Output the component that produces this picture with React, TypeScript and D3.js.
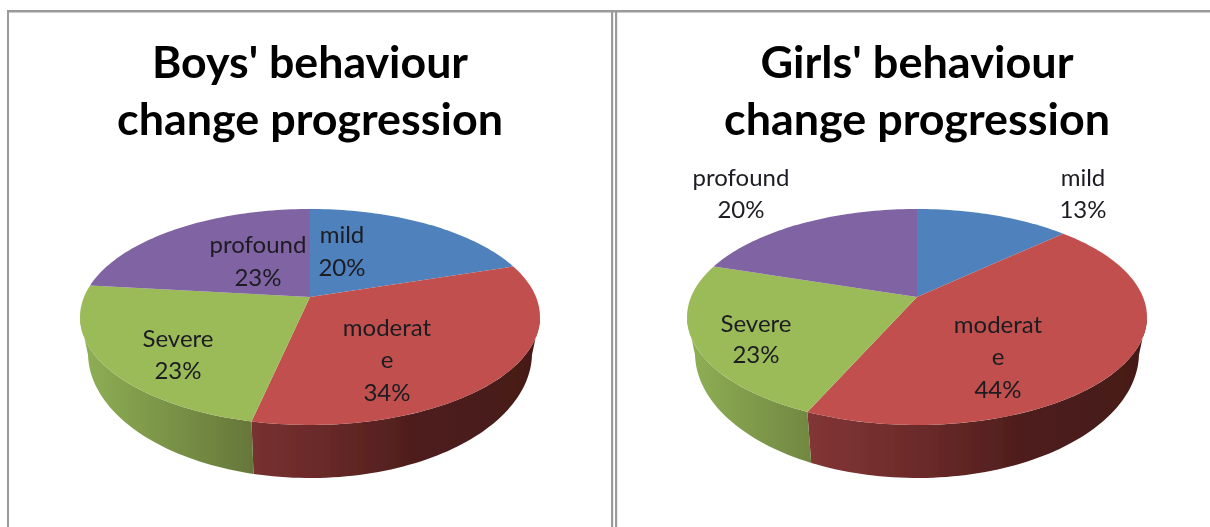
import React from "react";
import * as d3 from "d3";

const categories = ["mild", "moderate", "Severe", "profound"];
const boysValues = [20, 33.4, 23.4, 23.2];
const girlsValues = [13, 43.6, 23.4, 20];
const boysPercents = ["20%", "34%", "23%", "23%"];
const girlsPercents = ["13%", "44%", "23%", "20%"];
const titleLines = ["behaviour", "change progression"];

const topColors = ["#4f81bd", "#c0504d", "#9bbb59", "#8064a2"];

// layout
const K = 0.185, R = 226, S = 104.3, APEX_Y = 297;
const TOP_RX = 230, BOT_RX = 222, BOT_CY = 353, BOT_RY = 125;
const WIDE_A = Math.acos(-K); // angle of the rim's widest point, right side
const FONT = "Lato, Carlito, 'Open Sans', sans-serif";

type Lbl = { x: number; ys: number[]; lines: string[] };

function rim(cx: number, a: number): [number, number] {
  const u = Math.sin(a), v = -Math.cos(a), w = 1 - K * v;
  return [cx + (R * u) / w, APEX_Y + (S * v) / w];
}

function lowerRim(cx: number, a: number): [number, number] {
  const d = Math.min(1, Math.abs(rim(cx, a)[0] - cx) / TOP_RX);
  const sign = Math.sin(a) >= 0 ? 1 : -1;
  return [cx + sign * BOT_RX * d, BOT_CY + BOT_RY * Math.sqrt(1 - d * d)];
}

const line = d3.line();

function sample(a0: number, a1: number) {
  const n = Math.max(2, Math.ceil((a1 - a0) * 40));
  return d3.range(n + 1).map((i) => a0 + ((a1 - a0) * i) / n);
}

function Pie({ id, cx, values, labels }: { id: string; cx: number; values: number[]; labels: Lbl[] }) {
  const arcs = d3.pie<number>().sort(null)(values);
  const sideX = d3.scaleLinear().domain([-230, 230]).range([cx - 230, cx + 230]);
  return (
    <g>
      <defs>
        <linearGradient id={id + "g"} gradientUnits="userSpaceOnUse" x1={sideX(-230)} x2={sideX(-57)} y1="0" y2="0">
          <stop offset="0" stopColor="#8fb055" />
          <stop offset="1" stopColor="#66773a" />
        </linearGradient>
        <linearGradient id={id + "r"} gradientUnits="userSpaceOnUse" x1={sideX(-110)} x2={sideX(230)} y1="0" y2="0">
          <stop offset="0" stopColor="#823535" />
          <stop offset="0.35" stopColor="#6a2a29" />
          <stop offset="0.62" stopColor="#4f1e1d" />
          <stop offset="1" stopColor="#461918" />
        </linearGradient>
      </defs>
      {[1, 2].map((i) => {
        const a0 = Math.max(arcs[i].startAngle, WIDE_A);
        const a1 = Math.min(arcs[i].endAngle, 2 * Math.PI - WIDE_A);
        const as = sample(a0, a1);
        const pts = [...as.map((a) => rim(cx, a)), ...as.slice().reverse().map((a) => lowerRim(cx, a))] as [number, number][];
        return <path key={i} d={line(pts) + "Z"} fill={`url(#${id}${i === 1 ? "r" : "g"})`} />;
      })}
      {arcs.map((a, i) => {
        const pts = [[cx, APEX_Y] as [number, number], ...sample(a.startAngle, a.endAngle).map((t) => rim(cx, t))];
        return <path key={i} d={line(pts) + "Z"} fill={topColors[i]} />;
      })}
      {labels.map((l, i) =>
        l.lines.map((t, j) => (
          <text key={i + "-" + j} x={l.x} y={l.ys[j]} textAnchor="middle" fontFamily={FONT} fontSize={24} fill="#1c1c22">
            {t}
          </text>
        ))
      )}
    </g>
  );
}

function Title({ cx, who }: { cx: number; who: string }) {
  return (
    <g fontFamily={FONT} fontSize={44} fontWeight={700} textAnchor="middle" fill="#000">
      <text x={cx} y={78} textLength={who === "Boys'" ? 316 : 313} lengthAdjust="spacingAndGlyphs">
        {who} {titleLines[0]}
      </text>
      <text x={cx} y={135} textLength={386} lengthAdjust="spacingAndGlyphs">
        {titleLines[1]}
      </text>
    </g>
  );
}

const split = (name: string) => (name === "moderate" ? ["moderat", "e"] : [name]);

export default function App() {
  const bx = [342, 387, 178, 258];
  const bY = [[243, 276], [336, 368, 401], [347, 379], [253, 286]];
  const gx = [1083, 998, 756, 741];
  const gY = [[186, 218], [333, 365, 398], [332, 363], [186, 218]];
  const boysLabels = categories.map((c, i) => ({ x: bx[i], ys: bY[i], lines: [...split(c), boysPercents[i]] }));
  const girlsLabels = categories.map((c, i) => ({ x: gx[i], ys: gY[i], lines: [...split(c), girlsPercents[i]] }));
  return (
    <svg width={1210} height={527} style={{ position: "absolute", left: 0, top: 0, display: "block", background: "#fff" }}>
      <defs>
        <filter id="soft" x="-5%" y="-5%" width="110%" height="110%">
          <feGaussianBlur stdDeviation="0.45" />
        </filter>
      </defs>
      <g filter="url(#soft)">
        <rect x={7} y={10} width={1203} height={2.5} fill="#9a9a9a" />
        <rect x={7} y={10} width={2} height={517} fill="#9a9a9a" />
        <rect x={611} y={10} width={2.2} height={517} fill="#9a9a9a" />
        <rect x={615} y={10} width={2.2} height={517} fill="#9a9a9a" />
        <Title cx={310} who="Boys'" />
        <Title cx={917} who="Girls'" />
        <Pie id="b" cx={310} values={boysValues} labels={boysLabels} />
        <Pie id="g" cx={917} values={girlsValues} labels={girlsLabels} />
      </g>
    </svg>
  );
}
